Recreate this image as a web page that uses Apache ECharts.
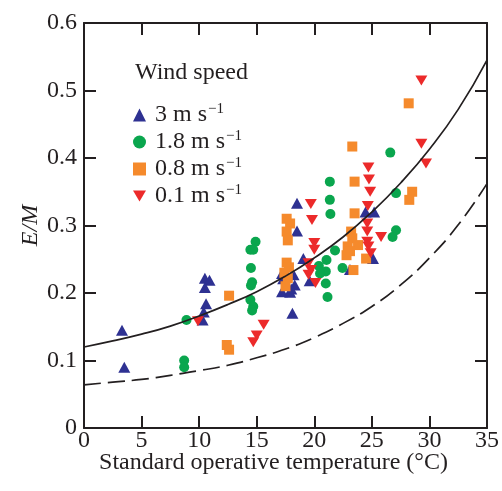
<!DOCTYPE html>
<html><head><meta charset="utf-8">
<script src="https://cdn.jsdelivr.net/npm/echarts@6/dist/echarts.min.js"></script>
<style>html,body{margin:0;padding:0;background:#fff}#c{width:502px;height:491px}</style>
</head><body><div id="c"></div><script>
// ---- data ----
const xTickValues = [0, 5, 10, 15, 20, 25, 30, 35];
const yTickValues = [0, 0.1, 0.2, 0.3, 0.4, 0.5, 0.6];
const seriesNames = ['3 m s-1', '1.8 m s-1', '0.8 m s-1', '0.1 m s-1'];
const blue3 = [
  [3.3,0.145],[3.5,0.090],
  [10.5,0.222],[10.9,0.219],[10.5,0.208],[10.6,0.184],[10.4,0.172],[10.3,0.160],
  [18.5,0.333],[18.5,0.292],[19.05,0.251],[17.2,0.229],[17.3,0.221],[18.2,0.227],[18.3,0.212],[18.0,0.206],[17.2,0.202],[17.9,0.201],[19.6,0.218],[18.1,0.170],
  [24.45,0.320],[25.2,0.320],[25.1,0.251],[23.1,0.235]
];
const green18 = [
  [8.9,0.160],[8.7,0.100],[8.7,0.090],
  [14.9,0.276],[14.45,0.264],[14.7,0.264],[14.5,0.237],[14.6,0.216],[14.5,0.211],[14.45,0.190],[14.7,0.180],[14.6,0.174],
  [21.35,0.365],[21.35,0.338],[21.4,0.317],[21.8,0.263],[21.06,0.249],[20.4,0.240],[21.0,0.232],[20.5,0.229],[21.0,0.214],[21.15,0.194],[22.45,0.237],
  [26.6,0.408],[27.1,0.348],[27.1,0.293],[26.8,0.283]
];
const orange08 = [
  [12.6,0.196],[12.4,0.123],[12.6,0.116],
  [17.6,0.310],[17.9,0.303],[17.6,0.291],[17.7,0.278],[17.6,0.245],[17.8,0.238],[17.4,0.230],[17.7,0.222],[17.5,0.210],
  [23.3,0.417],[23.5,0.365],[23.5,0.318],[23.2,0.291],[23.3,0.281],[23.8,0.271],[22.9,0.269],[22.8,0.256],[23.1,0.262],[23.4,0.234],[24.5,0.251],
  [28.5,0.350],[28.25,0.338],[28.2,0.481]
];
const red01 = [
  [9.9,0.158],[14.7,0.127],[15.0,0.137],[15.6,0.153],
  [19.7,0.332],[19.8,0.308],[20.0,0.274],[20.0,0.264],[19.5,0.244],[19.7,0.234],[19.5,0.227],[20.1,0.215],
  [24.7,0.386],[24.75,0.368],[24.85,0.350],[24.65,0.329],[24.6,0.303],[24.6,0.291],[24.6,0.276],[24.7,0.269],[25.8,0.283],[24.9,0.259],
  [29.3,0.515],[29.3,0.421],[29.7,0.392]
];
const fitSolid = [
  [0,0.120],[2.5,0.129],[5,0.139],[7.5,0.151],[10,0.166],[12.5,0.183],[15,0.202],[17.5,0.225],
  [20,0.252],[22.5,0.283],[25,0.320],[27.5,0.363],[30,0.413],[32.5,0.472],[35,0.545]
];
const fitDashed = [
  [0,0.064],[2.5,0.068],[5,0.072],[7.5,0.078],[10,0.085],[12.5,0.093],[15,0.104],[17.5,0.117],
  [20,0.134],[22.5,0.155],[25,0.180],[27.5,0.212],[30,0.252],[32.5,0.301],[35,0.362]
];

// ---- chart ----
const FONT = '"Liberation Serif", "Times New Roman", serif';
const INK = '#231f20';
const FS = 24;
const chart = echarts.init(document.getElementById('c'), null, {renderer: 'canvas'});
const axisCommon = {
  type: 'value',
  axisLine: {show: true, onZero: false, lineStyle: {color: INK, width: 2}},
  axisTick: {show: true, inside: true, length: 12, lineStyle: {color: INK, width: 2}},
  splitLine: {show: false}
};
const supName = {'3 m s-1': '3 m s', '1.8 m s-1': '1.8 m s', '0.8 m s-1': '0.8 m s', '0.1 m s-1': '0.1 m s'};
chart.setOption({
  animation: false,
  backgroundColor: '#fff',
  grid: {left: 84, right: 12, top: 23, bottom: 63, containLabel: false},
  title: {
    text: 'Wind speed', left: 130, top: 56,
    textStyle: {fontFamily: FONT, fontSize: FS, fontWeight: 'normal', color: INK}
  },
  legend: {
    orient: 'vertical', left: 128, top: 97,
    itemWidth: 13, itemHeight: 13, itemGap: 2,
    data: seriesNames,
    formatter: n => '{t|' + supName[n] + '}{s|\u22121}',
    textStyle: {
      fontFamily: FONT, fontSize: FS, color: INK, padding: [0, 0, 0, 4],
      rich: {
        t: {fontFamily: FONT, fontSize: FS, color: INK, lineHeight: 26},
        s: {fontFamily: FONT, fontSize: 15, color: INK, lineHeight: 15, verticalAlign: 'top', padding: [0, 0, 0, 1]}
      }
    }
  },
  xAxis: [
    Object.assign({}, axisCommon, {
      position: 'bottom', min: 0, max: 35, interval: 5,
      name: 'Standard operative temperature (\u00B0C)', nameLocation: 'middle', nameGap: 23,
      nameMoveOverlap: false,
      nameTextStyle: {fontFamily: FONT, fontSize: FS, color: INK, padding: [0, 24, 0, 0]},
      axisLabel: {show: true, margin: 1, fontFamily: FONT, fontSize: FS, color: INK,
        customValues: xTickValues}
    }),
    Object.assign({}, axisCommon, {
      position: 'top', min: 0, max: 35, interval: 5, axisLabel: {show: false}
    })
  ],
  yAxis: [
    Object.assign({}, axisCommon, {
      position: 'left', min: 0, max: 0.6, interval: 0.1,
      name: 'E/M', nameLocation: 'middle', nameGap: 41, nameRotate: 90,
      nameMoveOverlap: false,
      nameTextStyle: {fontFamily: FONT, fontSize: FS, color: INK, fontStyle: 'italic'},
      axisLabel: {show: true, margin: 7, fontFamily: FONT, fontSize: FS, color: INK,
        customValues: yTickValues,
        formatter: v => String(Math.round(v * 10) / 10)}
    }),
    Object.assign({}, axisCommon, {
      position: 'right', min: 0, max: 0.6, interval: 0.1, axisLabel: {show: false}
    })
  ],
  series: [
    {name: seriesNames[0], type: 'scatter', data: blue3, symbol: 'triangle', symbolSize: [12, 11],
      itemStyle: {color: '#2e3192', opacity: 1}, z: 3},
    {name: seriesNames[1], type: 'scatter', data: green18, symbol: 'circle', symbolSize: 10,
      itemStyle: {color: '#0aa64e', opacity: 1}, z: 3},
    {name: seriesNames[2], type: 'scatter', data: orange08, symbol: 'rect', symbolSize: 10,
      itemStyle: {color: '#f58a2c', opacity: 1}, z: 3},
    {name: seriesNames[3], type: 'scatter', data: red01, symbol: 'path://M0,0L12,0L6,10Z', symbolSize: [12, 10],
      itemStyle: {color: '#ec2a2a', opacity: 1}, z: 3},
    {type: 'line', data: fitSolid, smooth: true, showSymbol: false, symbol: 'none',
      lineStyle: {color: INK, width: 1.7}, z: 4, silent: true},
    {type: 'line', data: fitDashed, smooth: true, showSymbol: false, symbol: 'none',
      lineStyle: {color: INK, width: 1.7, type: [17, 7]}, z: 4, silent: true}
  ]
});
</script></body></html>
